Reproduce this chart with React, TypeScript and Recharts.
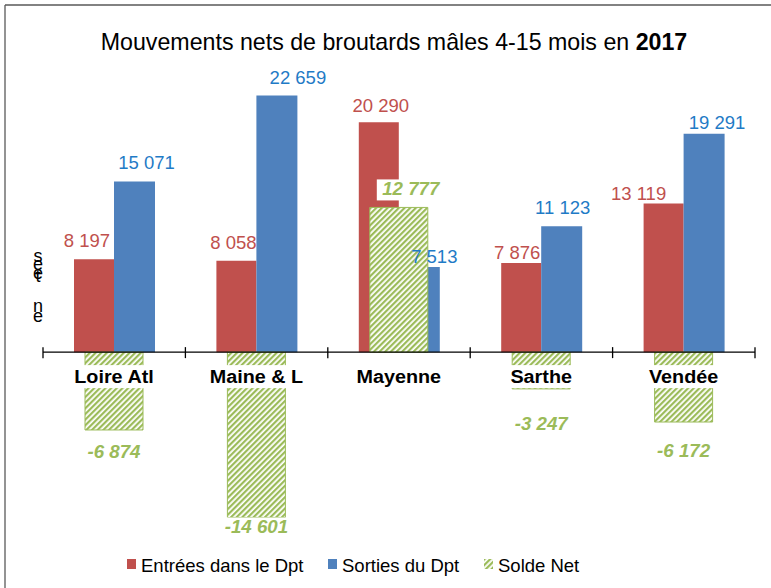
import React from 'react';
import { BarChart, Bar, XAxis, YAxis, ReferenceLine, LabelList, Legend } from 'recharts';

const departements = ['Loire Atl', 'Maine & L', 'Mayenne', 'Sarthe', 'Vendée'];
const entrees = [8197, 8058, 20290, 7876, 13119];
const sorties = [15071, 22659, 7513, 11123, 19291];
const solde = [-6874, -14601, 12777, -3247, -6172];

const seriesNames = { entrees: 'Entrées dans le Dpt', sorties: 'Sorties du Dpt', solde: 'Solde Net' };

// hand-placed data labels in the original chart: small nudges [dx, dy] per point
const entreesNudge = [[-7, 0], [-3, 0], [2, 2], [-4, 8], [-25, 8]];
const sortiesNudge = [[12, 0], [21, 0], [15, 8], [1, 0], [13, 7]];
const soldeNudge = [[0, 0], [0, -12], [12, 0], [0, 13], [0, 7]];

const data = departements.map((name, i) => ({
  name,
  entrees: entrees[i],
  sorties: sorties[i],
  solde: solde[i],
}));

const RED = '#C0504D';
const BLUE = '#4F81BD';
const GREEN = '#9BBB59';
const FONT = '"Liberation Sans", Arial, sans-serif';

const fmt = (v: number) => {
  const s = Math.abs(v).toString().replace(/\B(?=(\d{3})+(?!\d))/g, ' ');
  return (v < 0 ? '-' : '') + s;
};

const barBox = (p: any) => {
  const y = Number(p.y), h = Number(p.height);
  return { top: Math.min(y, y + h), bottom: Math.max(y, y + h), cx: Number(p.x) + Number(p.width) / 2 };
};

const valueLabel = (color: string, nudge: number[][]) => (props: any) => {
  const { top, cx } = barBox(props);
  const [dx, dy] = nudge[props.index] || [0, 0];
  return (
    <text x={cx + dx} y={top - 12 + dy} textAnchor="middle" fill={color} fontSize={18.5} fontFamily={FONT}>
      {fmt(Number(props.value))}
    </text>
  );
};

const SoldeLabel = (props: any) => {
  const { top, bottom, cx } = barBox(props);
  const value = Number(props.value);
  const [dx, dy] = soldeNudge[props.index] || [0, 0];
  const zero = value >= 0 ? bottom : top;
  const ly = (value >= 0 ? top - 12 : bottom + 28) + dy;
  const lx = cx + dx;
  return (
    <g>
      <rect x={cx - 50} y={zero + 13} width={100} height={23} fill="#fff" />
      <text
        transform={`translate(${cx},${zero + 31}) scale(1.07,1)`}
        textAnchor="middle"
        fontWeight="bold"
        fontSize={18.5}
        fontFamily={FONT}
        fill="#000"
      >
        {departements[props.index]}
      </text>
      <rect x={lx - 34} y={ly - 16} width={68} height={21} fill="#fff" />
      <text
        transform={`translate(${lx},${ly}) scale(1.07,1)`}
        textAnchor="middle"
        fontWeight="bold"
        fontStyle="italic"
        fontSize={17.5}
        fontFamily={FONT}
        fill={GREEN}
      >
        {fmt(value)}
      </text>
    </g>
  );
};

const AxisTicks = (props: any) => {
  const vb = props.viewBox || {};
  const n = departements.length;
  return (
    <g>
      {Array.from({ length: n + 1 }, (_, i) => {
        const x = vb.x + (vb.width * i) / n;
        return <line key={i} x1={x} x2={x} y1={vb.y - 5} y2={vb.y + 6} stroke="#000" strokeWidth={1.3} />;
      })}
    </g>
  );
};

const legendKeys: ('entrees' | 'sorties' | 'solde')[] = ['entrees', 'sorties', 'solde'];
const legendFill = { entrees: RED, sorties: BLUE, solde: 'url(#hatch)' };
const legendX = [127, 328, 484];

const renderLegend = () => (
  <svg width={771} height={34}>
    {legendKeys.map((k, i) => (
      <g key={k}>
        <rect x={legendX[i]} y={9} width={9} height={10} fill={legendFill[k]} />
        <text x={legendX[i] + 14} y={21.5} fontSize={18.5} fontFamily={FONT} fill="#000">
          {seriesNames[k]}
        </text>
      </g>
    ))}
  </svg>
);

// garbled vertical axis title of the original, one glyph per line
const axisTitleGlyphs = [
  ['s', 261.5],
  ['e', 270],
  ['e', 279],
  ['t', 282],
  ['n', 311.5],
  ['e', 321.5],
];

export default function App() {
  return (
    <div style={{ position: 'absolute', left: 0, top: 0, width: 771, height: 588, background: '#fff' }}>
      <svg width={771} height={588} style={{ position: 'absolute', left: 0, top: 0 }}>
        <defs>
          <pattern id="hatch" width="4" height="4" patternUnits="userSpaceOnUse" patternTransform="rotate(45)">
            <rect width="4" height="4" fill="#fff" />
            <rect width="2.2" height="4" fill={GREEN} />
          </pattern>
        </defs>
        <line x1={5} y1={5} x2={771} y2={5} stroke="#595959" strokeWidth={1.3} />
        <line x1={5} y1={5} x2={5} y2={588} stroke="#595959" strokeWidth={1.3} />
        <text x={394} y={50} textAnchor="middle" fontSize={23.2} fontFamily={FONT} fill="#000">
          Mouvements nets de broutards mâles 4-15 mois en <tspan fontWeight="bold">2017</tspan>
        </text>
        <g fontSize={18} fontFamily={FONT} fill="#000" textAnchor="middle">
          {axisTitleGlyphs.map(([g, y], i) => (
            <text key={i} x={38} y={y as number}>
              {g}
            </text>
          ))}
        </g>
      </svg>
      <div style={{ position: 'absolute', left: 0, top: 0 }}>
        <BarChart width={771} height={588} data={data} margin={{ top: 69, right: 16, left: 43, bottom: 66 }} barGap={0}>
          <XAxis xAxisId="main" dataKey="name" hide />
          <XAxis xAxisId="net" dataKey="name" hide />
          <YAxis domain={[-15000, 25000]} allowDataOverflow hide />
          <Bar xAxisId="main" dataKey="entrees" name={seriesNames.entrees} fill={RED} barSize={40} isAnimationActive={false}>
            <LabelList dataKey="entrees" content={valueLabel(RED, entreesNudge)} />
          </Bar>
          <Bar xAxisId="main" dataKey="sorties" name={seriesNames.sorties} fill={BLUE} barSize={41} isAnimationActive={false}>
            <LabelList dataKey="sorties" content={valueLabel('#1F7BC6', sortiesNudge)} />
          </Bar>
          <Bar
            xAxisId="net"
            dataKey="solde"
            name={seriesNames.solde}
            fill="url(#hatch)"
            stroke={GREEN}
            strokeWidth={1}
            barSize={58}
            isAnimationActive={false}
          >
            <LabelList dataKey="solde" content={SoldeLabel} />
          </Bar>
          <ReferenceLine xAxisId="main" y={0} stroke="#000" strokeWidth={1.3} label={<AxisTicks />} />
          <Legend
            verticalAlign="middle"
            align="center"
            content={renderLegend}
            wrapperStyle={{ left: 0, top: 550, width: 771 }}
          />
        </BarChart>
      </div>
    </div>
  );
}
